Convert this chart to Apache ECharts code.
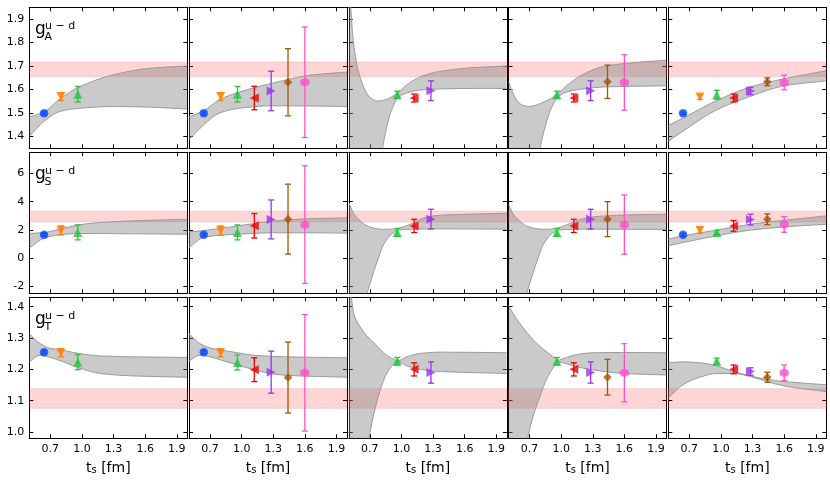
<!DOCTYPE html>
<html><head><meta charset="utf-8">
<script src="https://cdn.jsdelivr.net/npm/echarts@6/dist/echarts.min.js"></script>
<style>html,body{margin:0;padding:0;background:#fff}#c{width:830px;height:484px}</style>
</head><body><div id="c"></div>
<script>
// ---------- data ----------
const XT = [0.7, 1.0, 1.3, 1.6, 1.9];
const T = [0.64, 0.80, 0.96, 1.12, 1.28, 1.44, 1.60];
const rowNames = ['A', 'S', 'T'];
const rowRanges = [[1.35, 1.95], [-2.5, 7.5], [0.98, 1.43]];
const yTicksA = [1.4, 1.5, 1.6, 1.7, 1.8, 1.9];
const yTicksS = [-2, 0, 2, 4, 6];
const yTicksT = [1.0, 1.1, 1.2, 1.3, 1.4];
const refBandA = [1.656, 1.717];
const refBandS = [2.56, 3.32];
const refBandT = [1.076, 1.138];

const _ = null;
const gA_val = [
  [1.499, 1.570, 1.580, _, _, _, _],
  [1.499, 1.570, 1.580, 1.564, 1.594, 1.631, 1.631],
  [_, _, 1.578, 1.564, 1.595, _, _],
  [_, _, 1.578, 1.564, 1.595, 1.633, 1.630],
  [1.499, 1.568, 1.578, 1.564, 1.594, 1.633, 1.630]];
const gA_err = [
  [0.006, 0.016, 0.033, _, _, _, _],
  [0.006, 0.016, 0.033, 0.050, 0.084, 0.143, 0.235],
  [_, _, 0.015, 0.017, 0.042, _, _],
  [_, _, 0.015, 0.017, 0.042, 0.071, 0.118],
  [0.005, 0.010, 0.019, 0.017, 0.016, 0.017, 0.031]];
const gS_val = [
  [1.65, 1.96, 1.82, _, _, _, _],
  [1.65, 1.96, 1.82, 2.29, 2.74, 2.76, 2.37],
  [_, _, 1.82, 2.28, 2.76, _, _],
  [_, _, 1.82, 2.28, 2.76, 2.76, 2.37],
  [1.65, 1.97, 1.81, 2.28, 2.73, 2.75, 2.38]];
const gS_err = [
  [0.10, 0.32, 0.53, _, _, _, _],
  [0.10, 0.32, 0.53, 0.87, 1.38, 2.48, 4.17],
  [_, _, 0.28, 0.47, 0.70, _, _],
  [_, _, 0.28, 0.47, 0.70, 1.24, 2.10],
  [0.10, 0.20, 0.15, 0.38, 0.38, 0.38, 0.55]];
const gT_val = [
  [1.255, 1.253, 1.223, _, _, _, _],
  [1.255, 1.253, 1.222, 1.199, 1.191, 1.174, 1.189],
  [_, _, 1.226, 1.200, 1.190, _, _],
  [_, _, 1.226, 1.200, 1.190, 1.175, 1.189],
  [_, _, 1.226, 1.200, 1.193, 1.175, 1.189]];
const gT_err = [
  [0.005, 0.013, 0.024, _, _, _, _],
  [0.005, 0.013, 0.024, 0.038, 0.067, 0.113, 0.186],
  [_, _, 0.012, 0.021, 0.034, _, _],
  [_, _, 0.012, 0.021, 0.034, 0.057, 0.093],
  [_, _, 0.010, 0.014, 0.012, 0.016, 0.025]];

// fit bands: x samples, upper edge, lower edge
const gA_bandX = [
  [0.5, 0.64, 0.79, 0.97, 1.3, 1.65, 2.0],
  [0.5, 0.64, 0.79, 0.97, 1.3, 1.68, 2.0],
  [0.5, 0.52, 0.55, 0.6, 0.65, 0.7, 0.77, 0.85, 0.9, 0.97, 1.05, 1.2, 1.4, 1.7, 2.0],
  [0.5, 0.55, 0.6, 0.65, 0.7, 0.75, 0.8, 0.85, 0.9, 0.97, 1.05, 1.2, 1.4, 1.7, 2.0],
  [0.5, 0.64, 0.96, 1.28, 1.6, 2.0]];
const gA_bandU = [
  [1.483, 1.505, 1.56, 1.61, 1.663, 1.691, 1.70],
  [1.483, 1.51, 1.557, 1.588, 1.628, 1.663, 1.674],
  [2.2, 1.94, 1.78, 1.663, 1.602, 1.567, 1.551, 1.557, 1.567, 1.588, 1.62, 1.658, 1.68, 1.694, 1.70],
  [1.634, 1.578, 1.543, 1.531, 1.528, 1.532, 1.54, 1.55, 1.561, 1.582, 1.616, 1.663, 1.698, 1.715, 1.725],
  [1.447, 1.479, 1.553, 1.611, 1.646, 1.68]];
const gA_bandL = [
  [1.40, 1.465, 1.507, 1.52, 1.528, 1.525, 1.517],
  [1.387, 1.45, 1.50, 1.52, 1.531, 1.530, 1.528],
  [0.3, 0.4, 0.55, 0.75, 0.92, 1.06, 1.22, 1.42, 1.505, 1.567, 1.585, 1.599, 1.603, 1.605, 1.605],
  [0.0, 0.35, 0.6, 0.82, 1.0, 1.18, 1.35, 1.444, 1.514, 1.568, 1.589, 1.602, 1.611, 1.614, 1.616],
  [1.38, 1.423, 1.514, 1.571, 1.616, 1.637]];
const gS_bandX = [
  [0.5, 0.64, 0.79, 0.97, 1.17, 1.49, 2.0],
  [0.5, 0.64, 0.8, 0.96, 1.12, 1.28, 1.6, 2.0],
  [0.5, 0.55, 0.61, 0.67, 0.74, 0.8, 0.83, 0.9, 0.965, 1.05, 1.12, 1.21, 1.37, 1.69, 2.0],
  [0.5, 0.55, 0.61, 0.67, 0.74, 0.8, 0.83, 0.9, 0.965, 1.05, 1.12, 1.21, 1.37, 1.69, 2.0],
  [0.5, 0.64, 0.96, 1.28, 1.6, 2.0]];
const gS_bandU = [
  [1.74, 1.81, 2.05, 2.35, 2.52, 2.64, 2.75],
  [1.85, 1.95, 2.1, 2.28, 2.45, 2.6, 2.78, 2.85],
  [3.93, 3.1, 2.64, 2.3, 2.12, 2.05, 2.04, 2.05, 2.1, 2.3, 2.5, 2.85, 3.04, 3.12, 3.18],
  [3.81, 3.05, 2.6, 2.28, 2.12, 2.05, 2.04, 2.05, 2.12, 2.35, 2.55, 2.8, 2.97, 3.07, 3.11],
  [1.34, 1.58, 1.98, 2.4, 2.68, 2.99]];
const gS_bandL = [
  [0.71, 1.41, 1.65, 1.74, 1.74, 1.72, 1.69],
  [0.75, 1.46, 1.62, 1.69, 1.75, 1.79, 1.79, 1.77],
  [-9, -6.5, -4.3, -2.6, -0.9, 0.4, 0.95, 1.65, 1.97, 2.03, 2.05, 2.06, 2.07, 2.06, 2.05],
  [-9, -6.5, -4.3, -2.6, -0.9, 0.4, 0.95, 1.65, 1.97, 2.02, 2.04, 2.05, 2.05, 2.04, 2.03],
  [0.87, 1.1, 1.58, 1.98, 2.21, 2.4]];
const gT_bandX = [
  [0.5, 0.6, 0.7, 0.8, 0.86, 0.97, 1.17, 1.49, 2.0],
  [0.5, 0.6, 0.7, 0.8, 0.96, 1.12, 1.27, 1.42, 2.0],
  [0.5, 0.55, 0.61, 0.69, 0.74, 0.8, 0.86, 0.93, 0.965, 1.05, 1.18, 1.37, 2.0],
  [0.5, 0.55, 0.61, 0.674, 0.738, 0.8, 0.864, 0.928, 0.966, 1.05, 1.117, 1.307, 1.592, 2.0],
  [0.5, 0.64, 0.8, 0.96, 1.12, 1.28, 1.44, 1.6, 2.0]];
const gT_bandU = [
  [1.314, 1.283, 1.267, 1.263, 1.258, 1.251, 1.243, 1.24, 1.238],
  [1.314, 1.283, 1.268, 1.262, 1.253, 1.245, 1.242, 1.24, 1.237],
  [1.5, 1.375, 1.335, 1.3, 1.285, 1.263, 1.245, 1.232, 1.227, 1.24, 1.251, 1.255, 1.253],
  [1.403, 1.375, 1.345, 1.318, 1.293, 1.273, 1.256, 1.238, 1.229, 1.238, 1.245, 1.253, 1.254, 1.253],
  [1.221, 1.224, 1.221, 1.211, 1.193, 1.179, 1.168, 1.161, 1.151]];
const gT_bandL = [
  [1.224, 1.245, 1.238, 1.227, 1.219, 1.205, 1.187, 1.179, 1.175],
  [1.226, 1.245, 1.24, 1.23, 1.214, 1.199, 1.187, 1.181, 1.175],
  [0.45, 0.65, 0.83, 0.98, 1.061, 1.135, 1.187, 1.217, 1.224, 1.211, 1.2, 1.193, 1.187],
  [0.55, 0.7, 0.85, 0.97, 1.055, 1.115, 1.17, 1.207, 1.224, 1.218, 1.211, 1.198, 1.187, 1.182],
  [1.109, 1.151, 1.175, 1.187, 1.187, 1.177, 1.161, 1.147, 1.129]];

// ---------- style ----------
const COLORS = ['#0a4bff', '#ff8000', '#22c83c', '#ee0000', '#9933ee', '#a85400', '#ff4fc8'];
const HEX = 'path://M0,-1L0.866,-0.5L0.866,0.5L0,1L-0.866,0.5L-0.866,-0.5Z';
const SYMS = [['circle', 0, 8.5], ['triangle', 180, 9], ['triangle', 0, 9], ['triangle', 90, 9],
              ['triangle', -90, 9], ['diamond', 0, 8.5], [HEX, 0, 9]];
const FONT = 'DejaVu Sans';
const colLeft = [29.3, 189, 348.8, 508.5, 668.3];
const rowTop = [7.3, 152.3, 297.3];
const PW = 158, PH = 141;

const VALS = [gA_val, gS_val, gT_val];
const ERRS = [gA_err, gS_err, gT_err];
const BX = [gA_bandX, gS_bandX, gT_bandX];
const BU = [gA_bandU, gS_bandU, gT_bandU];
const BL = [gA_bandL, gS_bandL, gT_bandL];
const YT = [yTicksA, yTicksS, yTicksT];
const REF = [refBandA, refBandS, refBandT];
const YFMT = [v => v.toFixed(1), v => String(Math.round(v)), v => v.toFixed(1)];

// monotone cubic (Fritsch-Carlson) bezier segments through pixel points
function monoSegs(P) {
  const n = P.length, h = [], d = [], m = [];
  for (let k = 0; k < n - 1; k++) { h[k] = P[k + 1][0] - P[k][0]; d[k] = (P[k + 1][1] - P[k][1]) / h[k]; }
  m[0] = d[0]; m[n - 1] = d[n - 2];
  for (let k = 1; k < n - 1; k++) {
    if (d[k - 1] * d[k] <= 0) m[k] = 0;
    else { const w1 = 2 * h[k] + h[k - 1], w2 = h[k] + 2 * h[k - 1]; m[k] = (w1 + w2) / (w1 / d[k - 1] + w2 / d[k]); }
  }
  const s = [];
  for (let k = 0; k < n - 1; k++) {
    s.push([P[k], [P[k][0] + h[k] / 3, P[k][1] + m[k] * h[k] / 3],
            [P[k + 1][0] - h[k] / 3, P[k + 1][1] - m[k + 1] * h[k] / 3], P[k + 1]]);
  }
  return s;
}
const f = v => v.toFixed(2);
function fwdPath(s) { return s.map(g => `C${f(g[1][0])},${f(g[1][1])} ${f(g[2][0])},${f(g[2][1])} ${f(g[3][0])},${f(g[3][1])}`).join(' '); }
function revPath(s) { return s.slice().reverse().map(g => `C${f(g[2][0])},${f(g[2][1])} ${f(g[1][0])},${f(g[1][1])} ${f(g[0][0])},${f(g[0][1])}`).join(' '); }

function bandRender(params, api) {
  if (params.dataIndexInside !== 0) return null;
  const n = params.dataInsideLength, up = [], lo = [];
  for (let k = 0; k < n; k++) {
    const x = api.value(0, k);
    up.push(api.coord([x, api.value(1, k)]));
    lo.push(api.coord([x, api.value(2, k)]));
  }
  const su = monoSegs(up), sl = monoSegs(lo);
  const upStr = `M${f(up[0][0])},${f(up[0][1])} ` + fwdPath(su);
  const loStr = `M${f(lo[0][0])},${f(lo[0][1])} ` + fwdPath(sl);
  const fill = upStr + ` L${f(lo[n - 1][0])},${f(lo[n - 1][1])} ` + revPath(sl) + ' Z';
  const cs = params.coordSys;
  return {type: 'group', clipPath: {type: 'rect', shape: {x: cs.x, y: cs.y, width: cs.width, height: cs.height}},
    children: [
      {type: 'path', shape: {pathData: fill}, style: {fill: 'rgba(128,128,128,0.42)', stroke: null}},
      {type: 'path', shape: {pathData: upStr}, style: {fill: null, stroke: '#9a9a9a', lineWidth: 1}},
      {type: 'path', shape: {pathData: loStr}, style: {fill: null, stroke: '#9a9a9a', lineWidth: 1}}]};
}

const grids = [], xAxes = [], yAxes = [], series = [], graphics = [];
const lineCol = '#000';
for (let r = 0; r < 3; r++) {
  for (let c = 0; c < 5; c++) {
    const i = r * 5 + c;
    grids.push({left: colLeft[c], top: rowTop[r], width: PW, height: PH, show: false});
    const xBase = {type: 'value', gridIndex: i, min: 0.5, max: 2.0, splitLine: {show: false},
      axisLine: {show: true, onZero: false, lineStyle: {color: lineCol, width: 1}},
      axisTick: {show: true, inside: true, length: 4, customValues: XT, lineStyle: {color: lineCol, width: 1}}};
    xAxes.push(Object.assign({}, xBase, {position: 'bottom',
      axisLabel: {show: r === 2, customValues: XT, formatter: v => v.toFixed(1), fontFamily: FONT, fontSize: 11, color: '#000', margin: 5},
      name: r === 2 ? '{a|t}{b|s}{a| [fm]}' : '', nameLocation: 'middle', nameGap: 19,
      nameTextStyle: {rich: {a: {fontFamily: FONT, fontSize: 14, color: '#000', lineHeight: 18, verticalAlign: 'bottom'},
                             b: {fontFamily: FONT, fontSize: 10, color: '#000', lineHeight: 11, verticalAlign: 'bottom'}}}}));
    xAxes.push(Object.assign({}, xBase, {position: 'top', axisLabel: {show: false}}));
    const yBase = {type: 'value', gridIndex: i, min: rowRanges[r][0], max: rowRanges[r][1], splitLine: {show: false},
      axisLine: {show: true, onZero: false, lineStyle: {color: lineCol, width: 1}},
      axisTick: {show: true, inside: true, length: 4, customValues: YT[r], lineStyle: {color: lineCol, width: 1}}};
    yAxes.push(Object.assign({}, yBase, {position: 'left',
      axisLabel: {show: c === 0, customValues: YT[r], formatter: YFMT[r], fontFamily: FONT, fontSize: 11, color: '#000', margin: 5}}));
    yAxes.push(Object.assign({}, yBase, {position: 'right', axisLabel: {show: false}}));

    const xs = BX[r][c], us = BU[r][c], ls = BL[r][c];
    series.push({type: 'custom', xAxisIndex: 2 * i, yAxisIndex: 2 * i, z: 2, silent: true,
      data: xs.map((x, k) => [x, us[k], ls[k]]), renderItem: bandRender});

    const eb = [], pts = [];
    VALS[r][c].forEach((v, k) => {
      if (v === null) return;
      eb.push([T[k], v, ERRS[r][c][k], k]);
      pts.push({value: [T[k], v], symbol: SYMS[k][0], symbolRotate: SYMS[k][1], symbolSize: SYMS[k][2],
        itemStyle: {color: COLORS[k]}});
    });
    series.push({type: 'custom', xAxisIndex: 2 * i, yAxisIndex: 2 * i, z: 3, silent: true, data: eb,
      renderItem: (params, api) => {
        const x = api.value(0), y = api.value(1), e = api.value(2), col = COLORS[api.value(3)];
        const p1 = api.coord([x, y + e]), p2 = api.coord([x, y - e]);
        const st = {stroke: col, lineWidth: 1.3};
        return {type: 'group', children: [
          {type: 'line', shape: {x1: p1[0], y1: p1[1], x2: p2[0], y2: p2[1]}, style: st},
          {type: 'line', shape: {x1: p1[0] - 3, y1: p1[1], x2: p1[0] + 3, y2: p1[1]}, style: st},
          {type: 'line', shape: {x1: p2[0] - 3, y1: p2[1], x2: p2[0] + 3, y2: p2[1]}, style: st}]};
      }});
    series.push({type: 'scatter', xAxisIndex: 2 * i, yAxisIndex: 2 * i, z: 4, silent: true, data: pts,
      markArea: {silent: true, z: 1, label: {show: false},
        itemStyle: {color: 'rgba(255,0,0,0.165)', borderColor: 'rgba(255,60,60,0.18)', borderWidth: 1},
        data: [[{yAxis: REF[r][0]}, {yAxis: REF[r][1]}]]}});
  }
  // panel label g_X^{u-d}
  graphics.push({type: 'text', left: 35, top: rowTop[r] + 14, style: {text: 'g', font: '17px ' + FONT, fill: '#000'}});
  graphics.push({type: 'text', left: 44.5, top: rowTop[r] + 24, style: {text: rowNames[r], font: '11px ' + FONT, fill: '#000'}});
  graphics.push({type: 'text', left: 45, top: rowTop[r] + 13.5, style: {text: 'u \u2212 d', font: '11px ' + FONT, fill: '#000'}});
}

const chart = echarts.init(document.getElementById('c'), null, {renderer: 'canvas'});
chart.setOption({animation: false, backgroundColor: '#fff', grid: grids, xAxis: xAxes, yAxis: yAxes,
  series: series, graphic: graphics});
</script></body></html>
